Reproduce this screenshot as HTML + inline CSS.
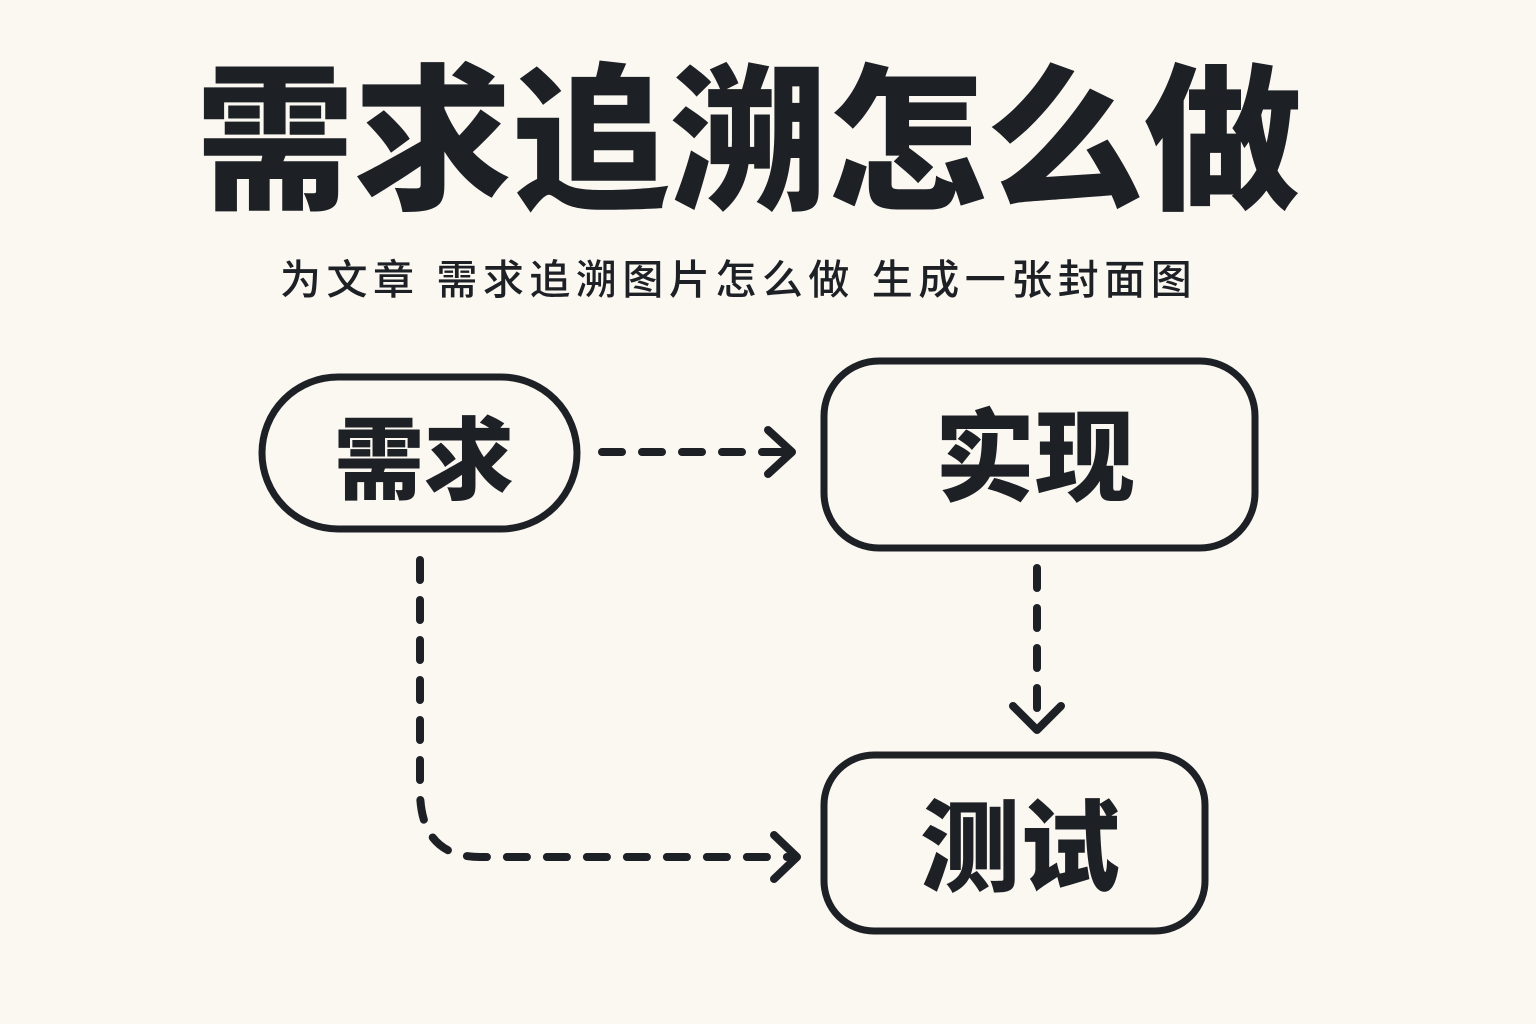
<!DOCTYPE html>
<html><head><meta charset="utf-8"><style>
html,body{margin:0;padding:0;background:#fbf8f2;}
body{width:1536px;height:1024px;position:relative;overflow:hidden;font-family:"Liberation Sans","Noto Sans CJK SC",sans-serif;color:#1d2025;}
.t{position:absolute;white-space:nowrap;font-weight:900;}
</style></head><body>
<div class="t" style="left:196px;top:48px;font-size:158px;line-height:190px;letter-spacing:0px;">需求追溯怎么做</div>
<div class="t" style="left:280px;top:252px;font-size:41px;line-height:56px;font-weight:500;letter-spacing:5.5px;">为文章 需求追溯图片怎么做 生成一张封面图</div>
<svg width="1536" height="1024" style="position:absolute;left:0;top:0">
<g fill="none" stroke="#1d2025" stroke-width="7" stroke-linecap="round" stroke-linejoin="round">
<rect x="262" y="377" width="315" height="152" rx="76"/>
<rect x="824" y="361" width="431" height="187" rx="55"/>
<rect x="824" y="755" width="381" height="176" rx="50"/>
</g>
<g fill="none" stroke="#1d2025" stroke-width="8" stroke-linecap="round" stroke-linejoin="round">
<path d="M602 452 H790" stroke-dasharray="20 20"/>
<path d="M768 430 L792 452 L768 474"/>
<path d="M1037 568 V725" stroke-dasharray="20 20"/>
<path d="M1013 706 L1037 730 L1061 706"/>
<path d="M420 560 V790 Q420 857 480 857 H795" stroke-dasharray="20 20"/>
<path d="M774 835 L797 857 L774 879"/>
</g>
<g font-family="Liberation Sans,Noto Sans CJK SC,sans-serif" font-weight="900" fill="#1d2025" text-anchor="middle">
<text x="424" y="492" font-size="90">需求</text>
<text x="1035" y="493" font-size="100">实现</text>
<text x="1020" y="883" font-size="100">测试</text>
</g>
</svg>
</body></html>
